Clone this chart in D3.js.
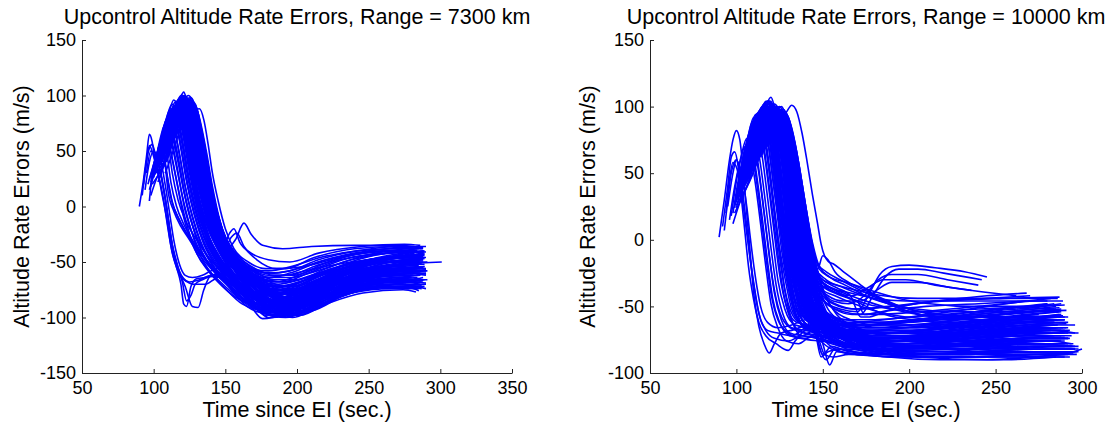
<!DOCTYPE html>
<html><head><meta charset="utf-8">
<script src="https://cdn.jsdelivr.net/npm/d3@7"></script>
<style>body{margin:0;background:#fff} svg{display:block} text{font-family:"Liberation Sans",Arial,sans-serif;fill:#000}</style>
</head><body><svg id="c" width="1112" height="426"></svg>
<script>
// ---- Tick values ----
const xTicks7300 = [50,100,150,200,250,300,350];
const yTicks7300 = [-150,-100,-50,0,50,100,150];
const xTicks10000 = [50,100,150,200,250,300];
const yTicks10000 = [-100,-50,0,50,100,150];

const titles = ["Upcontrol Altitude Rate Errors, Range = 7300 km","Upcontrol Altitude Rate Errors, Range = 10000 km"];
const xLabel = "Time since EI (sec.)";
const yLabel = "Altitude Rate Errors (m/s)";

// ---- Runs (flat t,v pairs), Range = 7300 km ----
const runs7300 = [
[90,0,93,25,95,45,97,65,99,58,101,40,104,25,107,5,110,-20,113,-42,116,-55,119,-70,121,-88,123,-90,126,-72,130,-65,136,-64,142,-62,150,-68,160,-80,172,-92,185,-95,200,-88,220,-74,250,-62,280,-58],
[92,10,95,40,97,55,100,45,103,30,106,10,109,-10,112,-35,116,-55,120,-65,125,-68,132,-66,140,-62,148,-65,158,-78,170,-90,185,-92,205,-82,230,-66,260,-55,285,-50],
[93,20,96,48,99,56,102,42,105,30,108,8,111,-18,114,-42,118,-60,122,-72,127,-90,131,-91,135,-75,140,-62,150,-60,160,-72,175,-85,190,-88,210,-78,240,-62,270,-52,288,-47],
[95,30,98,50,101,45,104,35,107,15,110,-10,113,-35,117,-55,121,-65,128,-70,136,-70,143,-65,150,-62,160,-70,172,-85,188,-92,208,-84,235,-68,265,-58,285,-55],
[97,5,99,30,102,45,105,40,108,20,111,-5,114,-30,118,-52,122,-62,127,-64,134,-62,140,-58,148,-55,158,-62,170,-78,185,-88,205,-80,230,-62,260,-48,282,-42],
[94,15,97,40,100,50,103,42,106,22,109,0,112,-28,116,-50,120,-68,123,-85,126,-80,129,-70,134,-66,141,-63,150,-66,162,-80,178,-94,195,-94,215,-80,245,-66,275,-60,288,-58],
[97,15,101,32,105,50,108,62,111,55,115,30,119,5,124,-20,130,-42,138,-58,148,-72,160,-84,172,-88,190,-82,215,-70,245,-62,268,-60],
[98,22,102,38,106,58,109,68,112,62,116,38,120,10,125,-16,131,-40,139,-58,150,-74,162,-88,175,-93,195,-86,220,-73,250,-66,272,-64],
[99,28,103,45,107,64,110,74,113,68,117,45,121,15,126,-12,132,-36,140,-55,152,-72,165,-90,178,-96,198,-90,222,-76,252,-70,276,-70],
[100,30,104,50,108,70,111,80,114,72,118,48,122,18,127,-10,133,-34,142,-55,154,-74,166,-88,180,-95,200,-88,225,-74,255,-66,280,-66],
[100,35,105,55,109,75,112,86,115,78,119,52,123,22,128,-6,134,-30,143,-52,155,-70,168,-86,182,-98,202,-92,226,-77,256,-72,284,-74],
[101,38,105,58,110,80,113,88,116,80,120,55,124,25,129,-4,135,-28,144,-50,156,-68,170,-88,185,-99,205,-94,228,-79,258,-73,286,-72],
[102,40,106,60,111,82,114,90,117,84,121,60,125,30,130,0,136,-25,145,-47,157,-64,170,-80,183,-90,202,-86,228,-68,258,-58,282,-56],
[102,35,107,58,112,84,115,94,118,86,122,62,126,32,131,3,137,-22,146,-45,158,-65,172,-85,186,-96,206,-90,230,-75,260,-68,287,-68],
[103,42,108,62,113,86,116,92,119,85,123,62,127,34,132,5,138,-20,147,-42,159,-58,172,-72,186,-80,205,-72,230,-56,260,-48,283,-46],
[104,45,109,66,114,88,117,96,120,90,124,66,128,38,133,8,139,-18,148,-42,160,-62,174,-84,188,-97,208,-92,232,-76,262,-68,288,-66],
[104,40,110,68,115,90,118,98,121,92,125,70,129,42,134,12,140,-16,149,-40,161,-60,175,-80,190,-92,210,-86,235,-70,265,-62,286,-60],
[105,44,110,64,115,84,118,90,121,84,125,62,129,36,134,8,140,-18,149,-40,160,-55,172,-65,185,-68,205,-60,230,-48,262,-42,280,-40],
[105,48,111,72,116,92,119,100,122,94,126,72,130,44,135,14,141,-14,150,-38,162,-58,176,-80,190,-96,210,-94,236,-78,266,-72,289,-72],
[106,46,112,74,117,94,120,98,123,90,127,68,131,40,136,10,142,-16,151,-40,163,-60,177,-82,192,-98,212,-92,238,-76,268,-70,288,-64],
[106,50,112,76,118,96,121,103,123,96,127,76,131,48,136,18,142,-10,151,-35,163,-55,177,-74,192,-86,212,-80,238,-64,268,-56,287,-54],
[107,52,113,78,118,92,122,97,125,88,129,64,133,36,138,6,144,-20,153,-42,165,-60,179,-78,194,-88,214,-80,240,-62,270,-52,285,-50],
[108,55,114,80,119,94,122,100,125,92,129,70,133,42,138,12,144,-16,153,-40,165,-58,179,-75,195,-84,215,-74,242,-56,272,-46,288,-44],
[108,50,114,76,119,88,123,94,126,86,130,62,134,34,139,4,145,-22,154,-44,166,-62,180,-80,196,-90,216,-82,242,-66,272,-58,290,-58],
[109,56,115,80,120,92,124,96,127,88,131,66,135,38,140,8,146,-18,155,-40,167,-56,181,-68,196,-72,216,-62,242,-48,272,-40,284,-38],
[110,58,116,82,121,94,125,92,128,82,132,58,136,30,141,0,147,-24,156,-44,168,-60,182,-76,198,-84,218,-74,245,-58,275,-50,288,-48],
[110,60,116,80,121,90,126,90,129,80,133,56,137,28,142,-2,148,-26,157,-46,169,-62,183,-78,199,-88,219,-78,246,-62,276,-55,290,-56],
[111,62,117,84,122,92,127,88,130,76,134,52,138,24,143,-4,149,-28,158,-46,170,-58,184,-66,200,-66,220,-56,248,-44,276,-38,288,-37],
[112,64,118,82,123,90,128,86,131,72,135,48,139,20,144,-8,150,-30,159,-48,171,-62,185,-74,201,-78,221,-68,248,-52,278,-44,289,-43],
[113,66,119,84,124,88,129,84,132,70,136,46,140,18,145,-10,151,-32,160,-50,172,-64,186,-80,202,-90,222,-80,250,-64,280,-58,291,-58],
[115,62,121,78,127,86,132,88,135,78,138,56,141,30,145,5,150,-20,156,-38,166,-50,178,-56,192,-56,212,-46,240,-38,270,-36,288,-37],
[108,50,114,78,119,90,123,94,126,85,130,60,134,32,139,2,145,-24,154,-46,166,-64,180,-80,196,-86,216,-76,244,-60,275,-52,301,-50],
[112,60,118,84,122,90,126,82,130,58,134,30,139,0,144,-22,149,-34,153,-24,156,-20,160,-32,168,-42,180,-48,195,-50,215,-42,245,-36,275,-34,286,-35],
[114,64,120,86,124,90,128,80,132,56,136,28,141,-2,146,-24,151,-38,157,-30,163,-15,168,-25,176,-35,190,-38,210,-36,240,-35,270,-35,282,-36],
[110,58,116,80,121,90,125,84,129,62,133,34,138,4,143,-20,149,-40,154,-28,158,-24,163,-36,172,-48,186,-56,205,-54,230,-46,260,-40,284,-40],
[103,30,108,55,113,80,116,88,119,80,123,56,127,26,132,-2,138,-28,147,-50,158,-72,168,-90,176,-101,190,-98,210,-86,235,-74,265,-70,285,-72],
[105,38,110,62,115,86,118,94,121,86,125,62,129,32,134,2,140,-24,149,-48,160,-70,171,-90,180,-100,195,-97,214,-84,240,-72,270,-70,290,-74],
[107,44,112,70,117,90,120,96,123,88,127,64,131,34,136,4,142,-22,151,-46,162,-68,173,-86,183,-98,198,-94,218,-82,244,-70,274,-68,286,-70],
[109,52,114,74,119,90,122,94,125,86,129,62,133,32,138,2,144,-24,153,-48,164,-70,174,-88,185,-99,200,-96,220,-86,247,-75,276,-72,285,-76],
[111,56,116,78,121,92,124,96,127,86,131,62,135,32,140,2,146,-24,155,-48,166,-70,176,-86,188,-95,203,-92,225,-80,252,-72,278,-74],
[104,40,109,62,114,84,117,90,120,82,124,58,128,28,133,-2,139,-28,148,-50,159,-70,169,-88,178,-98,192,-96,212,-84,238,-72,268,-66,289,-66],
[106,42,111,66,116,88,119,95,122,88,126,64,130,34,135,4,141,-22,150,-44,161,-62,173,-76,186,-82,204,-76,228,-62,258,-54,285,-52],
[108,48,113,72,118,90,121,96,124,88,128,64,132,36,137,6,143,-20,152,-42,163,-60,175,-72,188,-76,206,-68,230,-54,260,-46,287,-44],
[110,54,115,76,120,92,123,98,126,90,130,66,134,38,139,8,145,-18,154,-40,165,-56,177,-66,190,-68,208,-60,232,-48,262,-42,286,-41],
[113,60,118,80,123,94,126,92,129,80,133,56,137,28,142,-2,148,-26,157,-44,168,-56,180,-62,194,-62,212,-54,238,-44,268,-40,289,-42],
[101,30,106,52,110,72,113,82,116,74,120,48,124,18,129,-10,135,-34,144,-54,155,-70,167,-84,180,-90,200,-84,224,-70,254,-62,281,-62],
[116,70,121,88,125,94,129,88,132,74,136,48,140,20,145,-8,151,-30,160,-46,171,-56,184,-62,198,-62,218,-52,244,-42,274,-37,287,-38],
[107,46,113,74,118,92,121,100,124,92,128,68,132,40,137,10,143,-16,152,-38,163,-54,175,-66,188,-72,206,-66,232,-56,262,-50,288,-50],
[109,50,114,72,119,86,123,90,126,82,130,58,134,30,139,0,145,-26,154,-48,165,-66,177,-80,191,-86,209,-80,234,-66,264,-60,290,-60],
[102,34,107,56,111,76,114,84,117,76,121,52,125,22,130,-6,136,-30,145,-50,157,-66,169,-78,183,-84,203,-78,228,-64,258,-56,284,-56],
[112,58,117,80,122,94,125,98,128,88,132,62,136,34,141,4,147,-20,156,-40,167,-54,180,-60,195,-58,215,-48,242,-40,272,-36,290,-36]
];
const runs7300More = [
[98,10,102,25,106,35,110,50,114,70,118,85,121,88,124,78,128,52,132,22,137,-8,143,-32,152,-55,163,-75,176,-92,192,-96,212,-84,240,-70,270,-64,286,-62],
[99,20,104,30,109,42,114,62,119,82,124,95,127,90,130,70,134,40,139,8,145,-20,153,-42,165,-62,178,-80,194,-92,214,-84,242,-66,272,-56,289,-54],
[100,28,106,38,112,55,117,72,122,88,126,98,129,90,132,70,136,42,141,10,147,-18,155,-40,166,-58,180,-74,196,-82,216,-74,244,-58,274,-48,287,-46],
[101,35,107,45,113,62,118,80,123,92,127,94,130,84,133,62,137,34,142,4,148,-22,157,-44,168,-62,182,-78,198,-88,218,-80,246,-66,276,-60,290,-62],
[102,40,108,48,114,66,120,86,125,96,128,92,131,80,135,54,139,26,144,-4,150,-28,159,-48,170,-64,184,-76,200,-80,220,-70,248,-54,278,-44,288,-42],
[100,32,104,58,107,72,110,76,113,64,117,40,121,14,126,-12,132,-36,140,-54,150,-68,162,-82,176,-94,194,-92,216,-78,246,-68,276,-66,287,-67],
[101,36,105,60,108,76,111,82,114,72,118,46,122,18,127,-8,133,-32,141,-52,151,-66,163,-80,177,-90,195,-88,218,-74,248,-64,278,-60],
[103,44,106,62,109,80,112,88,115,80,119,54,123,24,128,-4,134,-28,142,-48,152,-64,164,-78,178,-88,196,-84,220,-70,250,-60,282,-56],
[104,48,107,66,110,84,113,92,116,86,120,60,124,30,129,0,135,-26,143,-46,153,-62,165,-76,180,-86,198,-82,222,-66,252,-56,284,-52],
[105,50,108,70,111,86,114,96,117,90,121,66,125,36,130,4,136,-22,144,-44,154,-60,166,-74,181,-84,200,-78,224,-62,254,-52,286,-48],
[106,40,110,58,114,76,118,92,121,98,124,92,127,74,131,46,135,16,140,-12,147,-36,156,-56,167,-74,180,-90,194,-99,212,-92,236,-78,264,-72,284,-73],
[107,36,111,50,116,70,120,88,123,96,126,90,129,70,133,42,137,12,142,-16,149,-40,158,-60,169,-78,182,-94,197,-100,215,-90,240,-76,268,-70,287,-71],
[108,30,112,44,117,64,121,82,125,92,128,86,131,66,135,38,139,8,144,-20,151,-44,160,-64,172,-84,186,-96,202,-98,222,-86,248,-74,276,-70,290,-70],
[103,22,108,40,113,58,118,76,122,90,125,92,128,80,132,54,136,24,141,-6,147,-30,156,-50,167,-68,181,-84,197,-92,217,-82,244,-68,272,-64,285,-65],
[104,26,109,46,114,66,119,84,123,96,126,96,129,82,133,56,137,26,142,-4,148,-28,157,-48,168,-62,182,-72,198,-74,218,-64,245,-50,274,-42,289,-40],
[105,30,110,52,115,72,120,90,124,100,127,96,130,80,134,52,138,22,143,-8,149,-32,158,-50,169,-64,183,-74,199,-76,219,-66,246,-54,276,-48,288,-46],
[106,34,111,56,116,76,121,92,124,96,127,88,131,64,135,34,140,2,146,-24,154,-46,164,-64,176,-80,190,-92,206,-94,226,-82,252,-70,280,-66,291,-66],
[109,40,114,60,119,80,124,92,128,94,131,84,134,64,138,36,142,6,147,-20,154,-42,163,-58,175,-70,189,-78,205,-76,225,-64,250,-50,278,-42,288,-40],
[110,46,115,66,120,84,125,94,129,92,132,78,136,52,140,22,145,-8,151,-32,159,-50,170,-66,183,-80,198,-88,216,-84,240,-70,266,-62,286,-62],
[111,50,116,70,121,86,126,92,130,88,133,74,137,48,141,18,146,-12,152,-36,161,-54,172,-68,186,-80,202,-84,222,-76,248,-62,276,-56,289,-56],
[96,20,100,38,104,54,107,64,110,60,113,42,117,16,121,-10,127,-34,135,-52,145,-66,157,-80,170,-92,186,-96,206,-88,232,-74,262,-68,283,-68],
[97,24,101,42,105,60,108,72,111,66,114,48,118,22,122,-4,128,-28,136,-48,146,-62,158,-74,172,-84,190,-86,212,-76,240,-62,270,-56,285,-55],
[99,30,103,48,106,66,109,78,112,74,115,56,119,30,123,2,129,-24,137,-44,147,-58,159,-70,173,-78,191,-78,214,-66,242,-52,272,-46,287,-45],
[100,26,104,44,108,62,112,78,116,86,119,78,122,56,126,28,130,0,136,-26,144,-48,154,-66,166,-82,180,-94,198,-96,220,-84,246,-72,276,-68,290,-69],
[102,32,106,50,110,68,114,84,118,92,121,84,124,62,128,34,132,6,138,-20,146,-42,156,-60,168,-76,182,-86,200,-86,222,-74,250,-60,280,-52,289,-52],
[104,38,109,60,114,82,118,94,121,88,125,64,129,34,134,4,140,-24,148,-44,157,-56,168,-62,180,-64,195,-60,215,-50,240,-42,268,-38,285,-38],
[105,42,110,64,115,84,119,96,122,92,126,68,130,38,135,6,141,-20,149,-40,158,-52,170,-58,184,-60,200,-56,220,-48,246,-42,274,-40,290,-41],
[107,48,112,70,117,90,120,100,123,94,127,70,131,40,136,8,142,-20,150,-42,160,-58,172,-68,186,-72,202,-68,224,-58,250,-50,280,-46,289,-47],
[108,50,113,74,118,92,121,98,124,92,128,66,132,36,137,4,143,-24,152,-48,162,-66,174,-82,188,-90,204,-86,226,-74,254,-64,282,-60,290,-61],
[110,52,115,76,120,92,123,96,126,88,130,62,134,32,139,0,145,-26,154,-50,165,-70,177,-86,190,-94,206,-90,228,-78,256,-68,284,-64],
[112,56,117,80,122,94,125,94,128,84,132,58,136,28,141,-4,147,-30,156,-52,167,-70,179,-84,193,-90,210,-84,232,-70,260,-60,286,-56],
[114,60,119,82,123,92,127,90,130,78,134,54,138,24,143,-6,149,-32,158,-52,169,-68,181,-78,196,-82,214,-74,238,-60,266,-50,288,-48],
[103,36,108,58,113,80,117,90,120,84,124,58,128,28,133,-2,139,-30,147,-52,157,-70,168,-86,180,-96,196,-96,216,-86,242,-76,270,-72,287,-74],
[106,44,111,68,116,88,120,98,123,90,127,64,131,34,136,2,142,-26,151,-50,161,-70,172,-88,184,-98,200,-98,220,-88,246,-78,274,-75,283,-77],
[109,50,114,72,119,90,122,94,125,86,129,60,133,30,138,-2,144,-28,153,-50,164,-68,176,-82,190,-88,208,-82,232,-68,260,-58,289,-54],
[111,54,116,76,121,90,124,92,127,82,131,58,135,28,140,-4,146,-30,155,-50,166,-62,178,-70,192,-72,210,-64,236,-52,266,-46,290,-46],
[113,58,118,80,122,90,126,90,129,80,133,56,137,26,142,-6,148,-32,157,-52,168,-66,180,-74,195,-76,213,-68,238,-56,268,-50,286,-50],
[101,32,106,54,111,78,115,88,118,82,122,58,126,28,131,-2,137,-28,145,-50,155,-68,166,-84,178,-94,194,-92,216,-80,244,-70,274,-66,288,-67],
[103,40,108,62,112,82,116,92,119,86,123,62,127,32,132,0,138,-26,146,-48,156,-64,167,-78,180,-86,198,-84,220,-72,248,-62,278,-58,289,-58],
[105,44,110,66,114,86,118,96,121,90,125,66,129,36,134,4,140,-22,148,-44,158,-60,169,-72,182,-80,200,-76,222,-62,250,-52,280,-48,288,-48]
];
const runs7300Extra = [
[100,30,103,50,106,54,108,38,110,14,114,-4,119,-18,124,-28,131,-42,140,-56,150,-68,162,-80,176,-88,195,-86,220,-72,250,-64,280,-62],
[99,25,102,45,105,58,107,48,110,24,113,4,118,-12,123,-24,130,-38,139,-52,149,-64,161,-74,175,-80,194,-76,218,-62,248,-52,278,-48,286,-47],
[101,34,104,56,107,62,109,50,112,22,116,0,121,-16,127,-30,134,-44,143,-58,154,-70,166,-80,180,-84,198,-80,222,-68,252,-60,283,-58],
[98,18,101,38,104,52,106,50,109,30,112,8,117,-10,122,-22,129,-36,138,-50,148,-62,160,-72,174,-78,192,-74,216,-60,246,-50,276,-46,288,-45],
[102,38,105,60,108,68,110,58,113,30,117,6,122,-12,128,-26,135,-40,144,-54,155,-66,168,-76,182,-80,200,-76,224,-64,254,-56,285,-53],
[104,40,109,64,114,86,117,92,120,86,124,62,128,32,133,2,139,-22,147,-40,156,-52,166,-60,178,-64,192,-62,212,-56,238,-50,266,-47,289,-46],
[106,46,111,70,116,90,119,96,122,90,126,66,130,36,135,4,141,-22,149,-42,158,-56,169,-66,182,-72,198,-72,218,-64,244,-56,272,-52,287,-51],
[108,50,113,74,118,92,121,96,124,88,128,62,132,32,137,2,143,-24,151,-44,160,-58,171,-70,185,-78,202,-78,222,-70,248,-62,276,-58,290,-57],
[110,54,115,78,120,94,123,96,126,86,130,60,134,30,139,0,145,-26,153,-46,162,-62,173,-76,187,-86,204,-86,225,-78,252,-68,280,-64],
[112,58,117,80,122,94,125,94,128,84,132,58,136,28,141,-2,147,-28,155,-50,164,-66,175,-80,189,-92,206,-92,228,-82,256,-72,284,-68],
[105,44,110,66,115,86,118,94,121,88,125,64,129,34,134,4,140,-22,148,-40,157,-50,167,-56,180,-58,196,-54,216,-46,242,-40,270,-38,288,-38],
[107,48,112,70,117,88,120,94,123,86,127,62,131,32,136,2,142,-24,150,-44,159,-58,169,-68,182,-74,198,-70,220,-60,246,-52,276,-50,291,-50],
[109,52,114,76,119,92,122,98,125,90,129,64,133,34,138,4,144,-22,152,-42,161,-56,172,-66,186,-70,202,-66,224,-56,250,-48,280,-44,289,-44],
[103,36,108,58,113,80,116,88,119,80,123,56,127,26,132,-4,138,-30,146,-50,156,-66,166,-78,178,-88,194,-90,214,-82,240,-72,268,-68,286,-68],
[111,56,116,78,121,92,124,94,127,84,131,60,135,30,140,0,146,-26,154,-46,163,-60,174,-72,188,-82,204,-84,226,-74,254,-64,282,-62],
[113,60,118,82,123,92,126,92,129,82,133,58,137,28,142,-2,148,-28,157,-46,167,-58,179,-66,193,-68,210,-62,234,-52,262,-46,287,-45],
[115,64,120,84,124,90,128,88,131,76,135,52,139,22,144,-8,150,-32,159,-48,169,-58,181,-64,196,-64,214,-58,238,-48,266,-42,288,-41],
[102,32,107,54,112,78,115,88,118,82,122,58,126,28,131,-2,137,-28,145,-50,155,-68,165,-84,176,-96,192,-100,212,-90,238,-78,266,-74,285,-74],
[104,38,109,60,113,82,116,90,119,84,123,60,127,30,132,0,138,-26,146,-46,155,-62,166,-76,178,-84,196,-82,218,-70,246,-60,276,-56,288,-55],
[106,42,111,64,115,84,119,94,122,88,126,64,130,34,135,2,141,-24,149,-44,158,-58,169,-70,182,-76,200,-74,222,-64,250,-58,280,-55,287,-55]
];

// ---- Runs (flat t,v pairs), Range = 10000 km ----
const runs10000 = [
[90,2,93,30,96,60,98,75,100,82,102,75,104,50,106,20,108,-10,110,-40,113,-65,116,-78,119,-85,122,-78,126,-70,132,-68,140,-65,150,-72,165,-80,190,-82,230,-80,270,-78,295,-80],
[92,10,95,40,97,62,99,66,101,55,103,30,105,5,107,-20,110,-45,113,-62,117,-72,123,-78,130,-83,134,-76,140,-68,150,-66,165,-70,190,-72,230,-70,265,-68,285,-66],
[93,7,95,30,97,50,100,60,102,52,104,32,106,10,108,-15,111,-42,114,-60,118,-68,124,-70,132,-72,140,-66,150,-62,165,-66,190,-70,225,-66,260,-62,282,-60],
[94,20,96,45,98,58,101,50,103,35,105,15,107,-5,110,-32,113,-55,117,-68,122,-74,130,-76,138,-72,146,-74,155,-82,170,-86,200,-86,240,-84,275,-82,298,-82],
[95,25,98,50,100,60,103,48,106,25,108,2,111,-28,114,-50,118,-62,124,-66,132,-64,140,-60,148,-64,160,-72,185,-76,220,-72,255,-68,280,-70],
[100,30,104,55,108,80,111,92,114,85,117,60,120,30,123,0,126,-30,130,-55,136,-68,144,-72,155,-78,175,-82,210,-80,250,-76,285,-76],
[101,35,105,60,109,84,112,95,115,88,118,62,121,32,124,2,128,-28,132,-52,138,-64,146,-70,158,-76,180,-80,215,-76,255,-72,288,-72],
[102,38,106,64,110,88,113,96,116,90,119,66,122,36,126,4,130,-26,134,-48,140,-60,148,-66,160,-72,185,-74,220,-70,260,-66,286,-64],
[103,40,107,68,111,90,114,98,117,92,120,70,124,38,128,6,132,-24,137,-46,143,-58,152,-66,165,-72,190,-76,225,-72,262,-70,290,-70],
[104,44,108,70,112,92,115,100,118,94,121,72,125,40,129,8,133,-22,138,-44,145,-60,155,-70,170,-78,195,-80,230,-76,268,-74,292,-74],
[105,46,109,72,113,94,116,102,119,96,122,74,126,42,130,10,134,-20,139,-42,146,-56,156,-64,172,-70,200,-70,235,-66,270,-62,286,-60],
[106,48,110,74,114,96,117,100,120,94,123,72,127,42,131,10,135,-20,140,-42,147,-58,157,-68,173,-76,200,-78,238,-74,272,-72,290,-72],
[106,44,111,76,115,98,118,104,121,98,124,76,128,44,132,12,136,-18,141,-40,148,-54,158,-62,175,-66,202,-64,240,-58,274,-54,288,-52],
[107,50,112,80,116,98,119,102,122,96,125,74,129,44,133,12,137,-18,142,-40,149,-56,160,-66,178,-72,205,-72,242,-68,276,-66,292,-66],
[108,52,113,82,117,100,120,107,122,100,126,76,130,46,134,14,138,-16,143,-38,150,-54,161,-64,180,-70,208,-68,245,-62,278,-58,290,-58],
[108,48,113,78,117,94,120,98,123,92,127,70,131,40,135,8,139,-22,144,-44,151,-60,162,-70,182,-78,210,-80,248,-78,280,-76,294,-78],
[109,54,114,82,118,98,121,102,124,96,128,72,132,42,136,10,140,-20,145,-42,152,-58,164,-68,184,-74,212,-74,250,-70,282,-68,296,-70],
[110,56,115,84,119,98,122,100,125,92,129,68,133,38,137,6,141,-24,146,-46,153,-62,165,-74,186,-82,215,-84,252,-84,285,-84,298,-84],
[111,58,116,84,120,96,123,98,126,90,130,66,134,36,138,4,142,-26,147,-48,154,-64,166,-76,188,-84,218,-86,255,-86,287,-86,300,-82],
[112,60,117,86,121,98,124,96,127,86,131,62,135,32,139,0,143,-28,148,-50,155,-66,168,-78,190,-86,220,-88,258,-88,290,-88],
[113,62,118,86,122,96,125,94,128,84,132,60,136,30,140,-2,144,-30,149,-52,156,-68,170,-80,192,-86,222,-86,260,-84,292,-84],
[114,64,119,88,123,96,126,92,129,80,133,56,137,26,141,-6,145,-32,150,-52,158,-66,172,-76,195,-80,225,-78,262,-74,284,-72],
[115,66,120,90,124,96,127,90,130,78,134,54,138,24,142,-8,146,-34,151,-54,159,-68,174,-78,198,-82,228,-80,265,-76,288,-76],
[116,70,121,92,125,96,128,88,131,74,135,50,139,20,143,-10,147,-36,152,-54,160,-66,176,-74,200,-76,230,-72,266,-66,284,-64],
[117,72,122,92,126,94,129,86,132,72,136,46,140,16,144,-12,148,-36,153,-52,162,-62,178,-68,202,-68,232,-62,268,-56,286,-54],
[118,70,124,88,129,96,132,101,135,96,138,80,141,58,144,34,147,12,149,-3,151,-12,153,-16,156,-18,162,-24,172,-34,185,-46,200,-54,220,-58,250,-58,275,-56],
[114,62,119,84,123,92,127,86,131,62,135,30,139,0,143,-20,147,-22,150,-12,153,-15,157,-24,165,-32,178,-40,195,-50,215,-56,245,-58,272,-58],
[110,56,115,82,119,94,122,96,126,84,130,56,134,24,138,-6,143,-30,150,-45,160,-52,170,-54,177,-40,183,-26,190,-20,200,-19,215,-21,232,-24,245,-28],
[112,60,117,84,121,94,124,94,128,80,132,52,136,20,140,-10,145,-34,152,-48,162,-54,172,-56,179,-42,186,-28,194,-22,205,-22,220,-25,242,-30],
[116,68,121,88,125,92,128,86,132,66,136,36,140,6,144,-18,149,-36,156,-46,165,-48,174,-42,182,-30,190,-26,205,-26,222,-30,240,-34],
[119,74,123,88,127,92,130,86,134,64,138,34,142,4,146,-20,151,-34,158,-40,167,-42,176,-36,185,-30,198,-30,215,-34,236,-38],
[113,64,118,86,122,94,125,92,129,76,133,48,137,16,141,-12,146,-32,153,-42,162,-46,172,-46,181,-38,190,-32,205,-32,225,-36,248,-40,262,-42],
[120,78,124,92,128,94,131,86,135,62,139,30,143,0,147,-18,152,-24,160,-30,172,-38,186,-46,200,-52,220,-56,250,-58,280,-58],
[121,80,125,94,129,92,132,82,136,58,140,26,144,-2,148,-20,154,-28,163,-34,175,-42,188,-48,200,-54,215,-58,245,-60,278,-62],
[117,72,122,90,126,94,129,86,133,64,137,32,141,0,145,-22,150,-30,158,-36,166,-42,172,-58,176,-58,186,-54,195,-52,210,-50,240,-48,268,-46],
[115,64,120,86,124,92,127,86,131,62,135,30,139,-2,143,-24,149,-34,157,-40,165,-44,170,-46,174,-56,184,-54,196,-50,215,-46,245,-44,270,-42],
[118,74,123,90,127,92,130,84,134,60,138,28,142,-4,146,-26,152,-34,162,-40,175,-46,190,-52,205,-56,225,-58,255,-58,286,-60],
[104,40,108,66,112,88,115,96,118,88,121,62,124,30,127,-2,131,-34,135,-58,140,-66,144,-58,147,-76,150,-86,155,-80,165,-84,190,-86,230,-86,270,-84,296,-84],
[106,44,110,70,114,92,117,98,120,90,123,64,126,32,129,0,133,-32,137,-56,142,-66,146,-64,150,-78,154,-94,158,-84,170,-86,200,-88,240,-88,280,-86,297,-86],
[109,52,113,76,117,94,120,100,123,92,126,66,129,34,133,0,137,-30,141,-52,145,-62,149,-66,153,-74,160,-80,180,-82,215,-80,255,-78,286,-78],
[102,36,106,60,110,82,113,90,116,82,119,56,122,24,125,-8,128,-38,132,-60,138,-72,145,-68,149,-88,153,-84,160,-82,185,-84,225,-82,262,-80,290,-80],
[107,46,111,72,115,92,118,96,121,88,124,62,128,30,131,0,135,-30,139,-52,144,-64,150,-70,158,-76,175,-84,205,-88,245,-90,280,-88,293,-88],
[111,58,115,80,119,94,122,98,125,90,128,64,132,32,136,0,140,-28,145,-48,152,-58,162,-62,180,-64,210,-60,245,-54,278,-50,288,-48],
[113,62,117,82,121,96,124,98,127,88,130,62,134,30,138,-2,142,-30,147,-48,154,-58,166,-62,185,-62,215,-58,250,-52,280,-48],
[105,42,109,68,113,90,116,96,119,88,122,62,126,30,130,-2,134,-32,139,-54,146,-64,156,-66,175,-64,205,-60,240,-56,272,-52,285,-50],
[103,38,107,62,111,84,114,92,117,84,120,58,123,26,126,-6,130,-36,134,-56,140,-64,150,-64,170,-62,200,-58,235,-52,268,-46,282,-44],
[119,76,123,90,127,96,130,90,133,72,137,44,141,12,145,-16,150,-38,156,-52,166,-60,182,-64,205,-64,235,-62,268,-58,292,-58],
[120,80,124,94,127,98,130,92,134,72,138,42,142,10,146,-18,151,-40,158,-56,170,-66,190,-72,215,-72,248,-68,280,-64,296,-64],
[108,50,112,74,116,94,119,104,122,96,125,70,129,38,133,6,137,-24,142,-46,149,-60,160,-68,180,-72,210,-72,248,-68,282,-66],
[110,54,114,78,118,96,121,100,124,92,127,66,131,34,135,2,139,-28,144,-50,151,-64,163,-72,184,-76,214,-76,250,-72,280,-70,298,-70],
[112,58,116,80,120,96,123,100,126,92,129,66,133,34,137,2,141,-26,146,-48,153,-62,165,-70,186,-74,216,-72,252,-66,284,-62],
[114,66,118,86,122,98,125,100,128,90,131,66,135,34,139,2,143,-26,148,-46,155,-58,168,-64,190,-66,220,-64,255,-60,288,-58],
[116,68,120,88,124,96,127,92,131,72,135,40,139,8,143,-20,148,-38,156,-48,168,-52,188,-50,215,-46,245,-42,268,-40],
[117,70,121,90,125,98,128,94,132,72,136,40,140,8,144,-20,149,-38,157,-48,170,-52,190,-50,220,-46,255,-44,287,-43]
];
const runs10000More = [
[98,12,102,28,106,40,110,56,114,76,118,92,121,96,124,84,127,56,130,24,133,-8,137,-38,142,-58,150,-68,162,-74,185,-78,220,-78,260,-76,290,-76],
[99,20,104,34,109,48,114,68,119,88,123,100,126,94,129,70,132,38,135,4,139,-28,144,-50,151,-62,163,-70,185,-74,220,-72,258,-68,286,-66],
[100,26,106,40,112,58,117,78,122,94,126,100,129,90,132,64,135,30,139,-4,143,-32,148,-52,156,-64,170,-72,195,-76,230,-74,266,-70,292,-70],
[101,32,107,46,113,64,118,82,123,96,127,98,130,84,133,58,137,22,141,-10,145,-36,150,-54,158,-66,173,-74,198,-78,233,-76,268,-74,290,-74],
[102,36,108,50,114,70,119,88,124,98,128,94,131,78,135,48,139,14,143,-18,147,-42,153,-58,162,-68,178,-74,202,-76,236,-72,270,-68,288,-68],
[98,20,101,44,104,62,107,74,110,70,113,50,116,20,119,-12,122,-40,126,-60,131,-70,138,-72,148,-74,165,-80,195,-82,235,-82,272,-80,294,-80],
[99,24,102,48,105,68,108,82,111,78,114,56,117,26,120,-6,123,-34,127,-56,132,-66,140,-68,150,-70,168,-74,198,-76,236,-74,270,-70,288,-70],
[100,28,103,52,106,72,109,88,112,84,115,62,118,32,121,0,124,-30,128,-52,134,-64,142,-66,152,-68,170,-72,200,-74,238,-72,272,-68,290,-68],
[101,30,104,56,107,78,110,92,113,88,116,66,119,36,122,4,125,-26,129,-50,135,-62,143,-64,154,-64,172,-66,202,-66,240,-62,274,-58,287,-56],
[102,34,105,58,108,80,111,94,114,92,117,70,120,40,123,8,126,-22,130,-48,136,-62,145,-66,156,-68,175,-70,205,-70,242,-66,276,-62,292,-62],
[103,38,107,62,110,82,113,96,116,96,119,76,122,46,125,14,128,-18,132,-44,138,-60,147,-68,158,-76,178,-82,210,-84,248,-82,280,-80,296,-80],
[104,42,108,66,111,86,114,98,117,98,120,80,123,50,126,18,129,-14,133,-40,139,-58,148,-66,160,-72,180,-78,212,-80,250,-78,282,-76],
[105,46,109,70,112,90,115,100,118,100,121,84,124,54,127,22,130,-10,134,-38,140,-56,149,-64,162,-68,182,-70,214,-70,252,-66,284,-62],
[106,48,110,72,113,92,116,102,119,102,122,86,125,56,128,24,131,-8,135,-36,141,-56,150,-66,164,-74,185,-80,218,-82,256,-82,288,-80,298,-80],
[107,50,111,74,114,94,117,104,120,104,123,88,126,60,129,28,132,-4,136,-32,142,-54,151,-66,166,-74,188,-78,220,-76,258,-72,286,-70],
[108,52,112,78,115,96,118,104,121,100,124,82,127,52,130,20,134,-14,138,-40,144,-58,153,-70,168,-80,190,-86,222,-88,260,-88,292,-86],
[109,56,113,80,116,96,119,102,122,98,125,78,128,48,131,16,135,-18,139,-42,145,-58,155,-66,170,-70,192,-70,225,-66,262,-60,288,-56],
[110,58,114,82,117,96,120,100,123,94,126,74,129,44,132,12,136,-20,140,-44,146,-60,156,-68,172,-72,195,-72,228,-68,265,-62,290,-60],
[111,60,115,84,118,96,121,98,124,92,127,70,130,40,133,8,137,-24,141,-46,147,-60,157,-66,174,-68,198,-66,230,-60,266,-54,285,-52],
[112,62,116,84,119,94,122,96,125,88,128,66,131,36,134,4,138,-26,142,-48,148,-62,158,-70,176,-76,200,-78,232,-76,268,-72,294,-72],
[113,64,117,86,120,94,123,94,126,84,129,62,132,32,135,0,139,-28,143,-50,149,-64,160,-74,178,-82,202,-86,235,-86,270,-84,297,-84],
[114,66,118,88,121,94,124,92,127,80,130,58,133,28,136,-4,140,-30,144,-50,150,-62,161,-68,180,-70,205,-68,238,-62,272,-56,288,-54],
[115,68,119,88,122,94,125,90,128,78,131,54,134,24,137,-8,141,-32,146,-52,152,-64,163,-72,182,-78,208,-80,240,-78,275,-74,292,-74],
[100,24,104,46,108,68,112,86,116,94,119,88,122,66,125,36,128,4,132,-28,137,-52,143,-62,152,-64,170,-64,200,-62,236,-58,270,-54,284,-52],
[102,30,106,52,110,74,114,90,118,98,121,92,124,70,127,40,130,8,134,-24,139,-50,145,-62,155,-66,172,-68,202,-70,240,-70,274,-68,293,-68],
[104,38,108,60,112,80,116,94,120,100,123,94,126,72,129,42,132,10,136,-22,141,-48,147,-62,157,-70,175,-76,205,-80,244,-80,278,-78,295,-78],
[115,66,120,86,124,94,128,90,131,72,134,44,137,14,141,-14,146,-30,152,-36,162,-42,175,-48,190,-52,210,-54,240,-52,270,-50,284,-48],
[117,70,122,90,126,96,129,90,132,72,135,44,139,12,143,-16,148,-30,155,-36,166,-40,180,-44,198,-46,222,-46,252,-46,280,-46],
[119,74,124,92,128,96,131,88,134,68,137,38,141,6,145,-20,150,-30,158,-34,170,-38,185,-42,205,-44,230,-44,260,-44,286,-44],
[116,70,121,90,125,96,128,88,132,64,136,32,140,0,144,-22,150,-32,160,-40,172,-48,186,-56,202,-60,225,-62,255,-62,283,-62],
[114,64,119,86,123,94,126,88,130,64,134,32,138,0,142,-24,148,-36,157,-42,168,-48,182,-54,198,-58,222,-60,255,-60,290,-60],
[118,72,123,90,127,94,130,86,134,62,138,30,142,-2,146,-22,152,-30,162,-36,174,-42,188,-48,204,-52,226,-54,258,-54,287,-54],
[120,76,125,92,129,94,132,84,136,58,140,26,144,-4,148,-22,154,-28,164,-32,178,-38,194,-44,212,-48,236,-50,266,-50,280,-48],
[105,44,109,68,113,90,116,98,119,90,122,64,125,32,128,0,132,-32,136,-58,141,-68,145,-60,148,-80,152,-90,157,-82,168,-84,195,-86,235,-86,275,-84,294,-84],
[107,48,111,72,115,92,118,100,121,92,124,66,127,34,130,2,134,-30,138,-56,143,-62,147,-72,151,-86,156,-88,165,-86,190,-88,230,-88,270,-86,290,-86],
[109,52,113,76,117,94,120,98,123,90,126,64,129,32,132,0,136,-32,140,-56,145,-64,150,-74,157,-82,170,-86,200,-86,240,-84,280,-82,296,-82],
[112,58,116,80,120,96,123,98,126,88,129,62,132,30,135,-2,139,-32,143,-54,148,-66,156,-76,168,-84,188,-88,218,-90,256,-90,285,-88],
[96,15,99,40,102,58,105,70,108,64,111,42,114,12,117,-20,120,-48,124,-66,129,-76,136,-78,144,-72,152,-74,165,-78,195,-80,235,-78,270,-76,286,-76],
[97,18,100,44,103,64,106,76,109,70,112,46,115,16,118,-16,121,-44,125,-62,131,-72,139,-74,148,-72,160,-74,185,-76,225,-74,262,-70,282,-68],
[103,40,107,62,111,84,114,96,117,92,120,70,123,40,126,6,129,-26,133,-52,138,-64,145,-68,154,-70,172,-72,202,-72,240,-70,275,-66,291,-66]
];
const runs10000Extra = [
[100,30,103,56,106,72,108,70,111,50,114,20,117,-12,120,-40,124,-60,130,-70,138,-74,148,-76,165,-78,195,-80,235,-80,270,-78,292,-78],
[101,34,104,60,107,78,109,80,112,62,115,32,118,0,121,-30,125,-54,131,-66,140,-70,152,-72,170,-74,200,-76,240,-76,275,-74,290,-74],
[105,44,109,70,113,92,116,100,119,94,122,70,125,38,128,6,132,-26,136,-48,142,-58,151,-62,165,-64,190,-64,225,-62,262,-58,289,-57],
[107,48,111,74,115,94,118,102,121,96,124,72,127,40,130,8,134,-24,138,-46,144,-58,153,-64,168,-68,192,-70,228,-68,264,-64,291,-63],
[109,52,113,78,117,96,120,102,123,96,126,74,129,42,132,10,136,-22,140,-44,146,-58,155,-66,170,-72,195,-76,230,-76,266,-74,293,-74],
[111,56,115,80,119,96,122,100,125,94,128,72,131,42,134,10,138,-22,142,-44,148,-58,157,-68,172,-76,198,-80,232,-82,268,-80,294,-80],
[113,60,117,84,121,96,124,98,127,90,130,68,133,38,136,6,140,-24,144,-46,150,-60,159,-68,174,-74,200,-76,234,-76,270,-74,288,-74],
[115,64,119,86,123,96,126,96,129,86,132,64,135,34,138,2,142,-26,146,-46,152,-58,161,-64,176,-66,202,-66,236,-64,272,-60,290,-60],
[117,68,121,88,125,96,128,94,131,84,134,60,137,30,140,-2,144,-28,148,-46,154,-56,163,-60,178,-62,204,-60,238,-56,274,-52,287,-51],
[106,46,110,72,114,92,117,98,120,92,123,68,126,36,129,4,133,-28,137,-50,143,-62,152,-68,167,-72,192,-74,228,-72,264,-70,289,-70],
[108,50,112,76,116,96,119,104,122,98,125,74,128,42,131,10,135,-22,139,-46,145,-62,154,-72,169,-80,194,-84,230,-86,266,-86,295,-85],
[110,54,114,78,118,96,121,100,124,94,127,72,130,40,133,8,137,-24,141,-46,147,-60,156,-70,171,-76,196,-80,232,-80,268,-78,290,-78],
[112,58,116,82,120,96,123,98,126,90,129,68,132,38,135,6,139,-26,143,-48,149,-62,158,-72,173,-80,198,-84,234,-84,270,-82,296,-82],
[114,62,118,84,122,96,125,96,128,86,131,64,134,34,137,2,141,-28,145,-48,151,-60,160,-66,175,-70,200,-72,236,-70,272,-66,289,-66],
[116,66,120,88,124,96,127,94,130,84,133,62,136,32,139,0,143,-28,147,-46,153,-56,162,-60,177,-60,202,-58,238,-54,274,-50,290,-49],
[104,42,108,68,112,90,115,98,118,92,121,68,124,36,127,4,131,-28,135,-52,141,-64,150,-70,165,-74,190,-78,226,-78,262,-76,287,-76],
[103,40,107,66,111,88,114,96,117,90,120,66,123,34,126,2,130,-30,134,-54,140,-66,149,-72,164,-78,188,-82,224,-84,260,-84,292,-84],
[118,70,122,90,126,96,129,92,132,80,135,56,138,26,141,-4,145,-28,150,-44,157,-52,167,-56,182,-56,206,-54,240,-50,276,-46,289,-46],
[109,52,113,76,117,94,120,98,123,92,126,70,129,40,132,8,136,-24,140,-46,146,-60,155,-66,170,-68,194,-68,230,-66,266,-62,286,-60],
[111,56,115,80,119,96,122,102,125,96,128,74,131,44,134,12,138,-20,142,-42,148,-56,157,-62,172,-64,196,-62,232,-58,268,-54,291,-53]
];

// ---- Build ----
const svg = d3.select("#c");
const FONT_TICK = 18, FONT_LAB = 21.5;

function toPairs(flat){ const out=[]; for(let i=0;i<flat.length;i+=2) out.push([flat[i],flat[i+1]]); return out; }

const panels = [
  {runs:runs7300.concat(runs7300More, runs7300Extra), xt:xTicks7300, yt:yTicks7300, xr:[82,512], title:titles[0], ylabX:28.5},
  {runs:runs10000.concat(runs10000More, runs10000Extra), xt:xTicks10000, yt:yTicks10000, xr:[650,1082], title:titles[1], ylabX:595}
];
const yr = [373,40];

panels.forEach(p=>{
  const x = d3.scaleLinear().domain(d3.extent(p.xt)).range(p.xr);
  const y = d3.scaleLinear().domain(d3.extent(p.yt)).range(yr);
  const g = svg.append("g");
  const line = d3.line().x(d=>x(d[0])).y(d=>y(d[1])).curve(d3.curveMonotoneX);
  g.append("g").selectAll("path").data(p.runs.map(toPairs)).join("path")
    .attr("d", line).attr("fill","none").attr("stroke","#0000ff").attr("stroke-width",1.6)
    .attr("stroke-linejoin","round");

  const xa = g.append("g").attr("transform",`translate(0,${yr[0]})`)
    .call(d3.axisBottom(x).tickValues(p.xt).tickFormat(d3.format("d")).tickSizeInner(-4).tickSizeOuter(0).tickPadding(8));
  const ya = g.append("g").attr("transform",`translate(${p.xr[0]},0)`)
    .call(d3.axisLeft(y).tickValues(p.yt).tickFormat(d3.format("d")).tickSizeInner(-4).tickSizeOuter(0).tickPadding(6));
  [xa,ya].forEach(a=>{
    a.selectAll("text").attr("font-size",FONT_TICK).attr("font-family",'"Liberation Sans",Arial,sans-serif').attr("fill","#000");
    a.selectAll("line,path").attr("stroke","#222");
  });
  ya.selectAll("text").text(d=>String(d));

  const cx = (p.xr[0]+p.xr[1])/2;
  g.append("text").attr("x",cx).attr("y",23.5).attr("text-anchor","middle").attr("font-size",FONT_LAB).text(p.title);
  g.append("text").attr("x",cx).attr("y",417).attr("text-anchor","middle").attr("font-size",FONT_LAB).text(xLabel);
  g.append("text").attr("transform",`translate(${p.ylabX},${(yr[0]+yr[1])/2}) rotate(-90)`)
    .attr("text-anchor","middle").attr("font-size",FONT_LAB).text(yLabel);
});
</script></body></html>
